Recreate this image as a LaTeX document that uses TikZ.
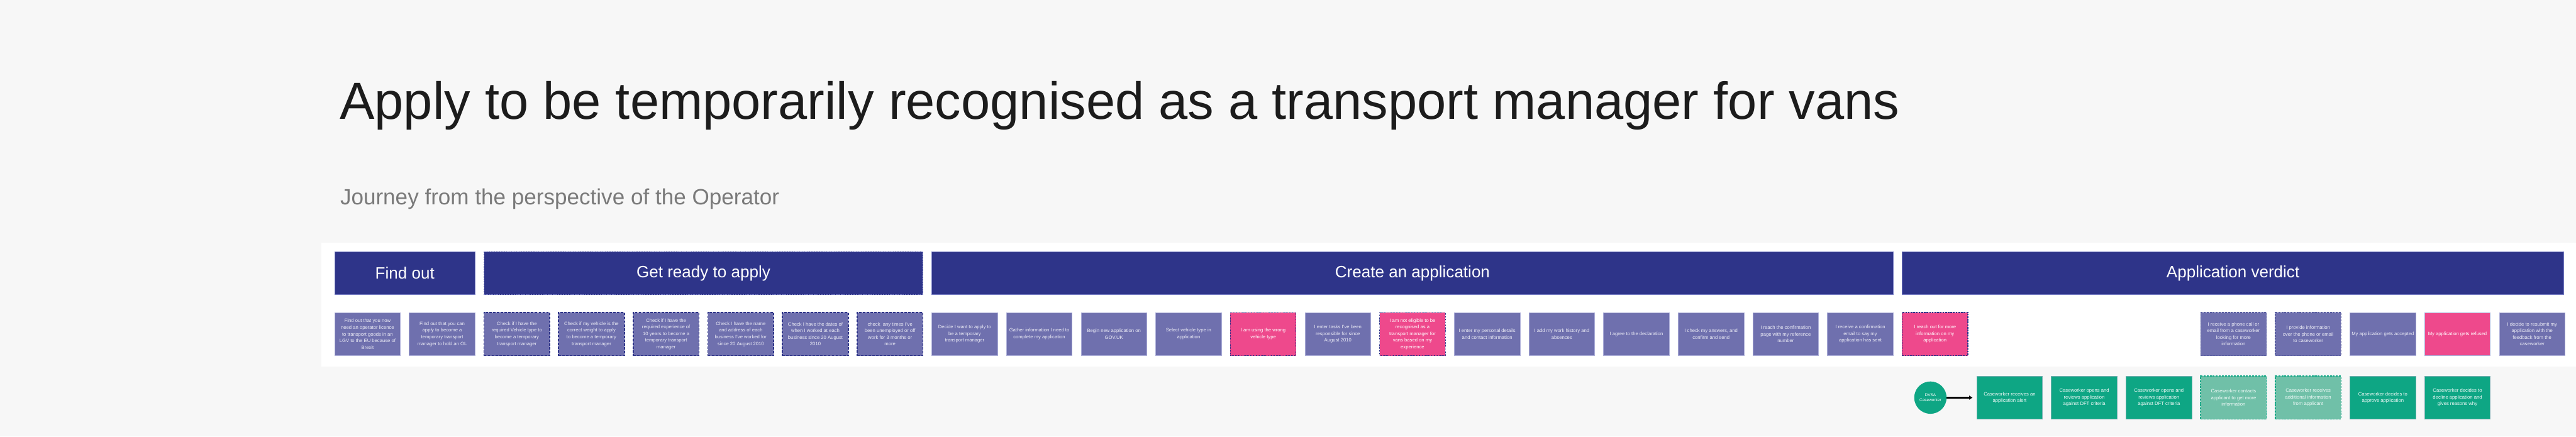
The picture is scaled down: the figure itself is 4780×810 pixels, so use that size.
\documentclass[tikz,border=0pt]{standalone}
\usepackage{fontspec}
\setmainfont{Liberation Sans}
\usepackage{tikz}
\usetikzlibrary{positioning, arrows.meta, shapes.geometric}
\definecolor{JNavy}{RGB}{46,52,137}
\definecolor{JNavyEdge}{RGB}{120,126,196}
\definecolor{JCard}{RGB}{111,112,174}
\definecolor{JCardEdge}{RGB}{172,174,216}
\definecolor{JCardText}{RGB}{236,236,246}
\definecolor{JPink}{RGB}{238,73,140}
\definecolor{JTeal}{RGB}{14,166,132}
\definecolor{JTealEdge}{RGB}{120,176,178}
\definecolor{JTealSoft}{RGB}{112,192,168}
\definecolor{JBack}{RGB}{247,247,247}
\definecolor{JTitle}{RGB}{28,28,28}
\definecolor{JSub}{RGB}{122,122,122}

\begin{document}
\begin{tikzpicture}[
  x=0.02cm, y=-0.02cm,
  phasebox/.style={draw=JNavyEdge, line width=0.5pt, fill=JNavy, text=white,
                   minimum height=1.6cm, inner sep=0pt,
                   font=\fontsize{17.3}{20}\selectfont},
  readyphase/.style={phasebox, line width=0.7pt, dash pattern=on 1.6pt off 1pt},
  card/.style={draw=JCardEdge, line width=0.5pt, fill=JCard, text=JCardText,
               minimum width=2.44cm, minimum height=1.6cm, inner sep=1pt,
               align=center, font=\fontsize{5.1}{7}\selectfont},
  prepbox/.style={card, draw=JNavy, line width=1.1pt, dash pattern=on 2.6pt off 1.4pt},
  wrongbox/.style={card, fill=JPink, text=white, draw=JNavy, line width=0.6pt,
                   dash pattern=on 0.8pt off 0.8pt},
  askbox/.style={card, fill=JPink, text=white, draw=JNavy, line width=0.8pt,
                 dash pattern=on 1.8pt off 1pt},
  pendbox/.style={card, draw=JNavy!80, line width=0.8pt, dash pattern=on 2pt off 1.2pt},
  refusebox/.style={card, fill=JPink, text=white},
  cwbox/.style={card, fill=JTeal, draw=JTealEdge, text=white!94!JTeal},
  cwpend/.style={cwbox, fill=JTealSoft, draw=JTeal, line width=1pt,
                 dash pattern=on 2pt off 1.2pt},
  actor/.style={circle, fill=JTeal, text=white, minimum size=1.2cm, inner sep=0pt,
                align=center, font=\fontsize{4.3}{5.2}\selectfont},
  flow/.style={-{Triangle[length=1.2mm, width=1.4mm]}, line width=1.5pt, shorten >=0.15cm}
]
\useasboundingbox (0,0) rectangle (4780,810);
\fill[JBack] (0,0) rectangle (4780,810);
\fill[white] (596,451) rectangle (4780,680);

%% ---- TITLE ----
\node[anchor=base west, inner sep=0pt, text=JTitle, font=\fontsize{55.2}{60}\selectfont]
  (title) at (630,221) {Apply to be temporarily recognised as a transport manager for vans};
\node[anchor=base west, inner sep=0pt, text=JSub, font=\fontsize{23.3}{26}\selectfont]
  (subtitle) at (631,380) {Journey from the perspective of the Operator};

%% ---- PHASES ----
\node[phasebox, minimum width=5.21cm]    (hfind)    at ( 751.25,507) {Find out};
\node[readyphase, minimum width=16.29cm] (hready)   at (1305.25,507) {Get ready to apply};
\node[phasebox, minimum width=35.68cm]   (hcreate)  at (2621,507)    {Create an application};
\node[phasebox, minimum width=24.56cm]   (hverdict) at (4143.5,507)  {Application verdict};

%% ---- FIND OUT ----
\node[card] (find1) at ( 682,620)   {Find out that you now\\need an operator licence\\to transport goods in an\\LGV to the EU because of\\Brexit};
\node[card] (find2) at ( 820.5,620) {Find out that you can\\apply to become a\\temporary transport\\manager to hold an OL};

%% ---- GET READY TO APPLY ----
\node[prepbox] (ready1) at ( 959,620)   {Check if I have the\\required Vehicle type to\\become a temporary\\transport manager};
\node[prepbox] (ready2) at (1097.5,620) {Check if my vehicle is the\\correct weight to apply\\to become a temporary\\transport manager};
\node[prepbox] (ready3) at (1236,620)   {Check if I have the\\required experience of\\10 years to become a\\temporary transport\\manager};
\node[prepbox] (ready4) at (1374.5,620) {Check I have the name\\and address of each\\business I've worked for\\since 20 August 2010};
\node[prepbox] (ready5) at (1513,620)   {Check I have the dates of\\when I worked at each\\business since 20 August\\2010};
\node[prepbox] (ready6) at (1651.5,620) {check\ \ any times I've\\been unemployed or off\\work for 3 months or\\more};

%% ---- CREATE AN APPLICATION ----
\node[card]     (make1)  at (1790,620)   {Decide I want to apply to\\be a temporary\\transport manager};
\node[card]     (make2)  at (1928.5,620) {Gather information I need to\\complete my application};
\node[card]     (make3)  at (2067,620)   {Begin new application on\\GOV.UK};
\node[card]     (make4)  at (2205.5,620) {Select vehicle type in\\application};
\node[wrongbox] (make5)  at (2344,620)   {I am using the wrong\\vehicle type};
\node[card]     (make6)  at (2482.5,620) {I enter tasks I've been\\responsible for since\\August 2010};
\node[wrongbox] (make7)  at (2621,620)   {I am not eligible to be\\recognised as a\\transport manager for\\vans based on my\\experience};
\node[card]     (make8)  at (2759.5,620) {I enter my personal details\\and contact information};
\node[card]     (make9)  at (2898,620)   {I add my work history and\\absences};
\node[card]     (make10) at (3036.5,620) {I agree to the declaration};
\node[card]     (make11) at (3175,620)   {I check my answers, and\\confirm and send};
\node[card]     (make12) at (3313.5,620) {I reach the confirmation\\page with my reference\\number};
\node[card]     (make13) at (3452,620)   {I receive a confirmation\\email to say my\\application has sent};

%% ---- APPLICATION VERDICT ----
\node[askbox]    (verd1) at (3590.5,620) {I reach out for more\\information on my\\application};
\node[pendbox]   (verd2) at (4144.5,620) {I receive a phone call or\\email from a caseworker\\looking for more\\information};
\node[pendbox]   (verd3) at (4283,620)   {I provide information\\over the phone or email\\to caseworker};
\node[card]      (verd4) at (4421.5,620) {My application gets accepted};
\node[refusebox] (verd5) at (4560,620)   {My application gets refused};
\node[card]      (verd6) at (4698.5,620) {I decide to resubmit my\\application with the\\feedback from the\\caseworker};

%% ---- CASEWORKER ----
\node[actor]  (dvsa) at (3582,738)   {DVSA\\Caseworker};
\node[cwbox]  (cw1)  at (3729,738)   {Caseworker receives an\\application alert};
\node[cwbox]  (cw2)  at (3867.5,738) {Caseworker opens and\\reviews application\\against DFT criteria};
\node[cwbox]  (cw3)  at (4006,738)   {Caseworker opens and\\reviews application\\against DFT criteria};
\node[cwpend] (cw4)  at (4144.5,738) {Caseworker contacts\\applicant to get more\\information};
\node[cwpend] (cw5)  at (4283,738)   {Caseworker receives\\additional information\\from applicant};
\node[cwbox]  (cw6)  at (4421.5,738) {Caseworker decides to\\approve application};
\node[cwbox]  (cw7)  at (4560,738)   {Caseworker decides to\\decline application and\\gives reasons why};

\draw[flow] (dvsa) -- (cw1);

\end{tikzpicture}
\end{document}
